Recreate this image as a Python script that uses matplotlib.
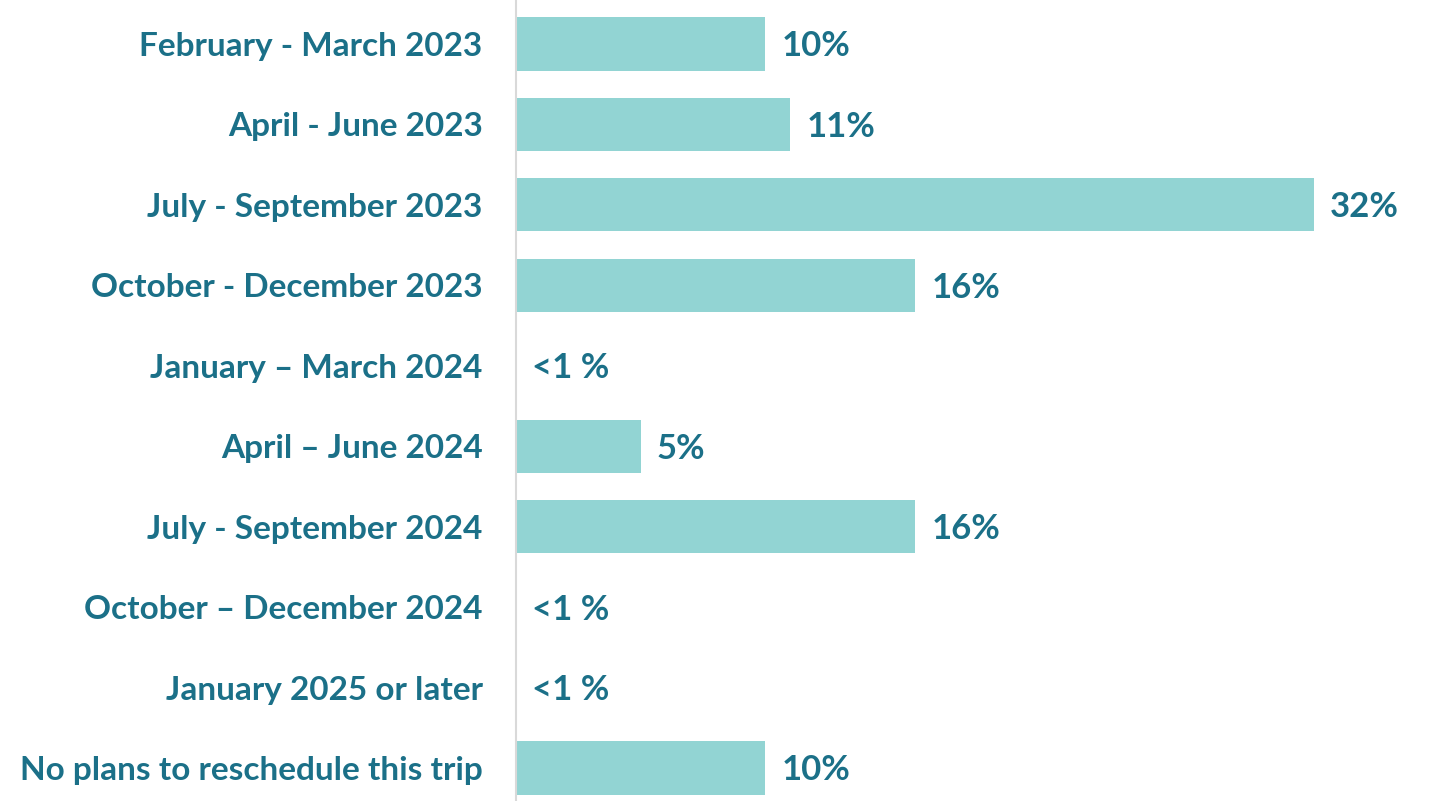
import matplotlib.pyplot as plt

# Survey answers: when the trip will be rescheduled
periods = [
    "February - March 2023",
    "April - June 2023",
    "July - September 2023",
    "October - December 2023",
    "January \u2013 March 2024",
    "April \u2013 June 2024",
    "July - September 2024",
    "October \u2013 December 2024",
    "January 2025 or later",
    "No plans to reschedule this trip",
]
shares = [10, 11, 32, 16, 0, 5, 16, 0, 0, 10]
share_labels = ["10%", "11%", "32%", "16%", "<1 %", "5%", "16%", "<1 %", "<1 %", "10%"]

BAR = "#92D4D3"
TEXT = "#1B7088"

plt.rcParams["font.family"] = ["Lato", "DejaVu Sans"]

fig = plt.figure(figsize=(14.3, 8.01), dpi=100)
ax = fig.add_axes([516 / 1430, 0, (1430 - 516) / 1430, 1])

rows = list(range(len(periods)))
ax.barh(rows, shares, height=0.66, color=BAR)

for y, v, lab in zip(rows, shares, share_labels):
    ax.text(v + 0.65, y + 0.03, lab, va="center", ha="left",
            fontsize=25, fontweight="bold", color=TEXT)

ax.set_xlim(0, 914 / 24.94)
ax.set_ylim(9.41, -0.547)
ax.set_yticks(rows)
ax.set_yticklabels(periods, fontsize=24, fontweight="bold", color=TEXT)
ax.tick_params(axis="y", length=0, pad=24)
ax.set_xticks([])

for side in ["top", "right", "bottom"]:
    ax.spines[side].set_visible(False)
ax.spines["left"].set_color("#D9D9D9")
ax.spines["left"].set_linewidth(1.5)

fig.savefig("out.png", dpi=100, facecolor="white")
